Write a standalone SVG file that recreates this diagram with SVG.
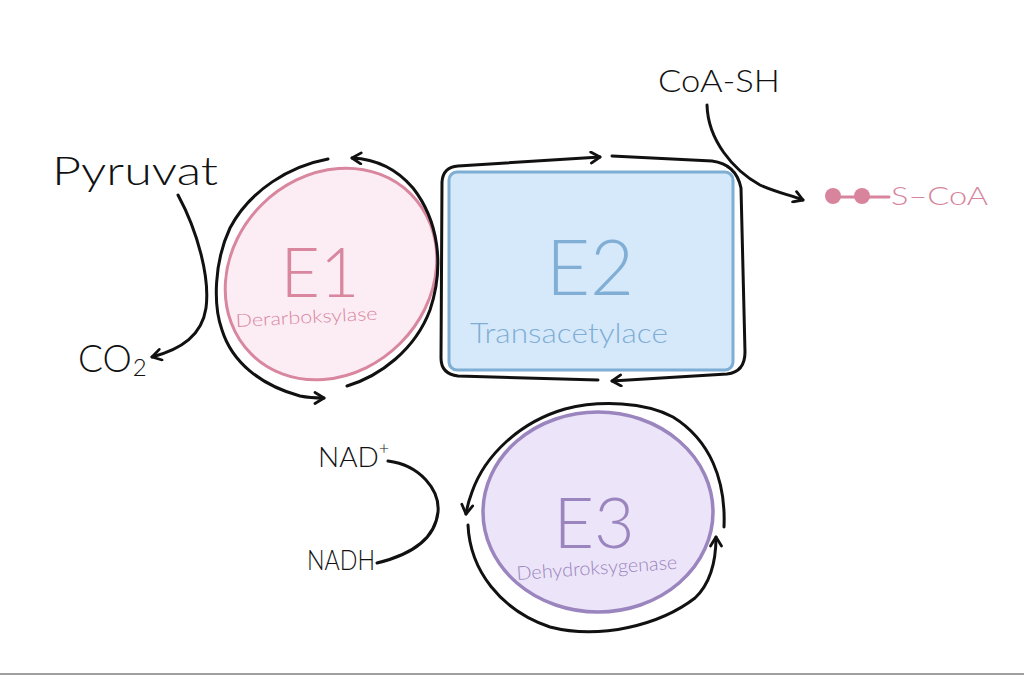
<svg xmlns="http://www.w3.org/2000/svg" width="1024" height="675" viewBox="0 0 1024 675">
<style>
.ink{fill:none;stroke:#111;stroke-width:3;stroke-linecap:round;stroke-linejoin:round}
.lbl{font-family:"Lato","Open Sans","Liberation Sans",sans-serif;font-weight:300;fill:#111}
.big{font-family:"Lato","Open Sans","Liberation Sans",sans-serif;font-weight:300}
</style>
<defs>
<marker id="arr" viewBox="0 0 14 14" refX="11" refY="7" markerWidth="14" markerHeight="14" markerUnits="userSpaceOnUse" orient="auto">
<path d="M2,1.5 L11,7 L2,12.5" fill="none" stroke="#111" stroke-width="2.8" stroke-linecap="round" stroke-linejoin="round"/>
</marker>
</defs>
<rect width="1024" height="675" fill="#ffffff"/>
<line x1="0" y1="674" x2="1024" y2="674" stroke="#a0a0a0" stroke-width="2"/>

<g id="E1">
<ellipse cx="331" cy="274" rx="113" ry="98" transform="rotate(-45 331 274)" fill="#fcedf4" stroke="#d9869f" stroke-width="3"/>
<text class="big" x="320" y="297" font-size="68" fill="#d9869f" text-anchor="middle">E1</text>
<text class="big" x="236" y="327" font-size="18" fill="#d9869f" textLength="142" lengthAdjust="spacingAndGlyphs" transform="rotate(-3 236 327)">Derarboksylase</text>
</g>

<g id="E2">
<rect x="449" y="172" width="284" height="198" rx="8" fill="#d6e9fb" stroke="#7eaed3" stroke-width="3"/>
<text class="big" x="590" y="295" font-size="76" fill="#80aed4" text-anchor="middle">E2</text>
<text class="big" x="470" y="343" font-size="28" fill="#80aed4" textLength="198" lengthAdjust="spacingAndGlyphs">Transacetylace</text>
</g>

<g id="E3">
<ellipse cx="598" cy="512" rx="115" ry="100" fill="#ece4f8" stroke="#9b85bf" stroke-width="3.5"/>
<text class="big" x="594" y="548" font-size="70" fill="#9b85bf" text-anchor="middle">E3</text>
<text class="big" x="517" y="580" font-size="19" fill="#9b85bf" textLength="161" lengthAdjust="spacingAndGlyphs" transform="rotate(-4 517 580)">Dehydroksygenase</text>
</g>

<g id="Pyruvat"><text class="lbl" x="52" y="185" font-size="40" textLength="166" lengthAdjust="spacingAndGlyphs">Pyruvat</text></g>
<g id="CO2"><text class="lbl" x="78" y="372" font-size="37">CO<tspan dx="1" dy="4" font-size="24">2</tspan></text></g>
<g id="NADplus"><text class="lbl" x="318" y="467" font-size="28">NAD<tspan font-size="18" dy="-13">+</tspan></text></g>
<g id="NADH"><text class="lbl" x="307" y="570" font-size="28" textLength="68" lengthAdjust="spacingAndGlyphs">NADH</text></g>
<g id="CoASH"><text class="lbl" x="658" y="92" font-size="32" textLength="122" lengthAdjust="spacingAndGlyphs">CoA-SH</text></g>
<g id="AcetylCoA">
<line x1="833" y1="197" x2="889" y2="197" stroke="#d7849c" stroke-width="3" stroke-linecap="round"/>
<circle cx="833" cy="196" r="8" fill="#d7849c"/>
<circle cx="862" cy="196" r="8" fill="#d7849c"/>
<text class="big" x="891" y="205" font-size="25" fill="#d7849c" textLength="97" lengthAdjust="spacingAndGlyphs">S–CoA</text>
</g>

<g id="connectors">
<path class="ink" d="M347,386 C380,376 415,350 430,310 C445,265 438,220 413,188 C395,167 375,159 352,158" marker-end="url(#arr)"/>
<path class="ink" d="M328,159 C290,166 250,190 230,228 C214,262 213,305 222,330 C232,362 260,385 300,396 C310,398 317,398 324,398" marker-end="url(#arr)"/>
<path class="ink" d="M598,380 L458,376 Q441,374 441,358 L442,182 Q443,167 458,166 L600,157" marker-end="url(#arr)"/>
<path class="ink" d="M612,156 L712,161 Q736,164 741,188 L745,352 Q745,372 727,374 L612,381" marker-end="url(#arr)"/>
<path class="ink" d="M724,527 C726,480 710,440 673,417 C645,402 600,400 565,409 C520,422 485,455 472,492 C469,500 467,507 466,514" marker-end="url(#arr)"/>
<path class="ink" d="M468,525 C470,570 500,610 550,627 C600,640 660,625 695,598 C712,582 716,560 716,537" marker-end="url(#arr)"/>
<path class="ink" d="M178,195 C198,232 210,278 206,308 C202,335 182,349 152,357" marker-end="url(#arr)"/>
<path class="ink" d="M707,105 C708,140 733,170 760,185 C775,192 790,195 803,200" marker-end="url(#arr)"/>
<path class="ink" d="M388,461 C420,465 440,490 438,512 C435,540 410,555 377,563"/>
</g>
</svg>
